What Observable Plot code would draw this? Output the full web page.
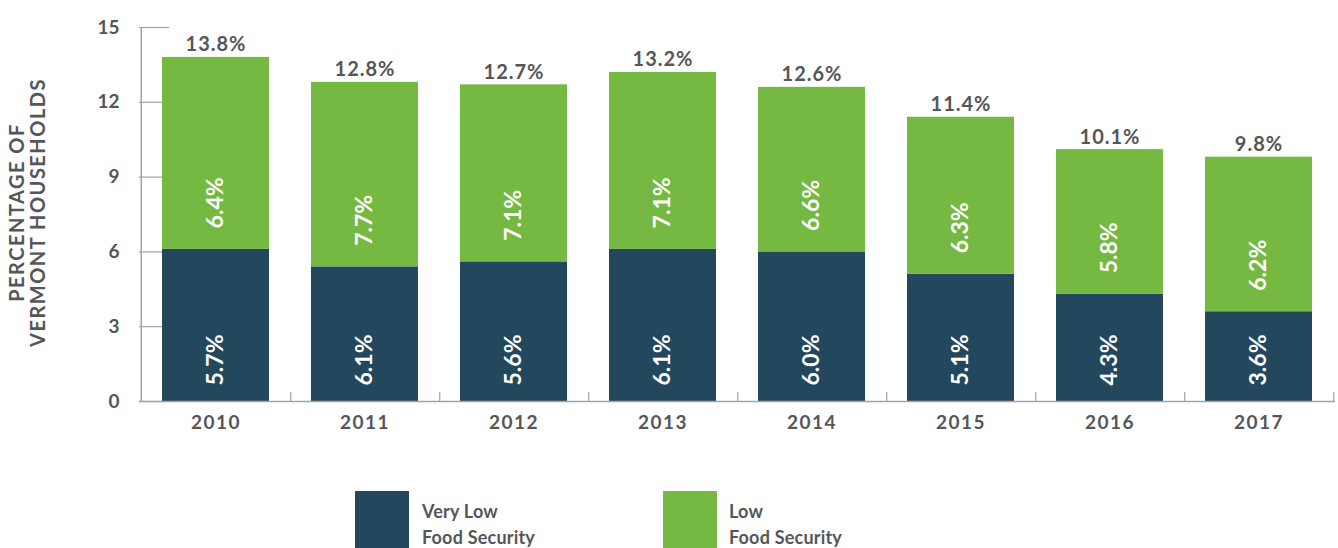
<!DOCTYPE html>
<html>
<head>
<meta charset="utf-8">
<script src="https://cdn.jsdelivr.net/npm/d3@7"></script>
<script src="https://cdn.jsdelivr.net/npm/@observablehq/plot@0.6"></script>
<style>
  html, body { margin: 0; padding: 0; background: #ffffff; }
  #wrap { position: relative; width: 1338px; height: 548px; overflow: hidden; font-family: Lato, "Open Sans", sans-serif; }
  #legend { position: absolute; left: 0; top: 440px; width: 1338px; height: 108px; }
  .sw { position: absolute; width: 54px; height: 57px; top: 51px; }
  .lt { position: absolute; top: 58px; font-size: 18px; font-weight: 700; line-height: 26px; color: #555658; letter-spacing: 0.2px; }
</style>
</head>
<body>
<div id="wrap"><div id="chart"></div><div id="legend"></div></div>
<script>
// ---- data ----
const years = ["2010", "2011", "2012", "2013", "2014", "2015", "2016", "2017"];
const categories = ["Very Low Food Security", "Low Food Security"];
// drawn segment heights (as they appear in the picture)
const veryLowHeights = [6.1, 5.4, 5.6, 6.1, 6.0, 5.1, 4.3, 3.6];
const lowHeights = [7.7, 7.4, 7.1, 7.1, 6.6, 6.3, 5.8, 6.2];
const totals = [13.8, 12.8, 12.7, 13.2, 12.6, 11.4, 10.1, 9.8];
// printed labels
const veryLowLabels = ["5.7%", "6.1%", "5.6%", "6.1%", "6.0%", "5.1%", "4.3%", "3.6%"];
const lowLabels = ["6.4%", "7.7%", "7.1%", "7.1%", "6.6%", "6.3%", "5.8%", "6.2%"];
const totalLabels = ["13.8%", "12.8%", "12.7%", "13.2%", "12.6%", "11.4%", "10.1%", "9.8%"];
const yTicks = [0, 3, 6, 9, 12, 15];
const yTitle = "PERCENTAGE OF\nVERMONT HOUSEHOLDS";
const colors = ["#23485d", "#76b942"];

// ---- build tables ----
const stacked = [];
years.forEach((y, i) => {
  stacked.push({year: y, cat: categories[0], value: veryLowHeights[i]});
  stacked.push({year: y, cat: categories[1], value: lowHeights[i]});
});
const rows = years.map((y, i) => ({
  year: y, dark: veryLowHeights[i], total: totals[i],
  darkLabel: veryLowLabels[i], lowLabel: lowLabels[i], totalLabel: totalLabels[i]
}));

const W = 1338, H = 440, ML = 139, MR = 3, MT = 27, MB = 39;
const step = (W - ML - MR) / years.length;
const axisColor = "#a3a3a3";
const textGray = "#555658";

const chart = Plot.plot({
  width: W, height: H,
  marginLeft: ML, marginRight: MR, marginTop: MT, marginBottom: MB,
  style: {fontFamily: "Lato, 'Open Sans', sans-serif", background: "#ffffff", overflow: "visible"},
  x: {type: "band", domain: years, paddingInner: 0.28, paddingOuter: 0.14, label: null},
  y: {domain: [0, 15], label: null},
  color: {domain: categories, range: colors},
  marks: [
    // short tick lines to the right of the y axis (mostly hidden by bars)
    Plot.axisY({ticks: yTicks, tickSize: -30, text: null, stroke: axisColor, strokeWidth: 1.2}),
    Plot.axisY({ticks: yTicks, tickSize: 0, tickPadding: 20, fontSize: 19, fontWeight: 700, fill: textGray, label: null}),
    Plot.barY(stacked, {x: "year", y: "value", fill: "cat"}),
    Plot.ruleY([0], {stroke: axisColor, strokeWidth: 1.5}),
    Plot.ruleX([years[0]], {x: d => d, dx: -step / 2, y1: 0, y2: 15, stroke: axisColor, strokeWidth: 1.5}),
    // small ticks between the bars
    Plot.axisX({ticks: years, tickSize: -9, text: null, dx: step / 2, stroke: axisColor, strokeWidth: 1.2}),
    Plot.axisX({ticks: years, tickSize: 0, tickPadding: 14, fontSize: 19, fontWeight: 700, fill: textGray, label: null}),
    // value labels
    Plot.text(rows, {x: "year", y: "total", text: "totalLabel", dy: -6, lineAnchor: "bottom",
      fontSize: 20, fontWeight: 700, fill: textGray}),
    Plot.text(rows, {x: "year", y: d => 0, text: "darkLabel", rotate: -90, textAnchor: "start",
      dy: -16, fontSize: 23, fontWeight: 700, fill: "#ffffff"}),
    Plot.text(rows, {x: "year", y: "dark", text: "lowLabel", rotate: -90, textAnchor: "start",
      dy: -21, fontSize: 23, fontWeight: 700, fill: "#ffffff"}),
    // y title
    Plot.text([yTitle], {frameAnchor: "left", text: d => d, rotate: -90, textAnchor: "middle", lineAnchor: "middle",
      dx: -112, dy: -2, lineHeight: 1.05, fontSize: 20, fontWeight: 700, fill: textGray})
  ]
});
document.getElementById("chart").appendChild(chart);

// letter spacing tweaks
d3.select(chart).selectAll("text").filter(function() { return this.textContent.startsWith("PERCENTAGE"); })
  .style("letter-spacing", "1.5px");
d3.select(chart).selectAll("text").filter(function() { return years.includes(this.textContent); })
  .style("letter-spacing", "1.5px");
d3.select(chart).selectAll("text").filter(function() { return totalLabels.includes(this.textContent) && !/rotate/.test(this.getAttribute("transform") || ""); })
  .style("letter-spacing", "1px");

// legend
const legend = document.getElementById("legend");
const legendPos = [{sw: 355, tx: 422, text: ["Very Low", "Food Security"]}, {sw: 663, tx: 729, text: ["Low", "Food Security"]}];
legendPos.forEach((p, i) => {
  const s = document.createElement("div");
  s.className = "sw"; s.style.left = p.sw + "px"; s.style.background = colors[i];
  legend.appendChild(s);
  const t = document.createElement("div");
  t.className = "lt"; t.style.left = p.tx + "px";
  t.innerHTML = p.text.join("<br>");
  legend.appendChild(t);
});
</script>
</body>
</html>
